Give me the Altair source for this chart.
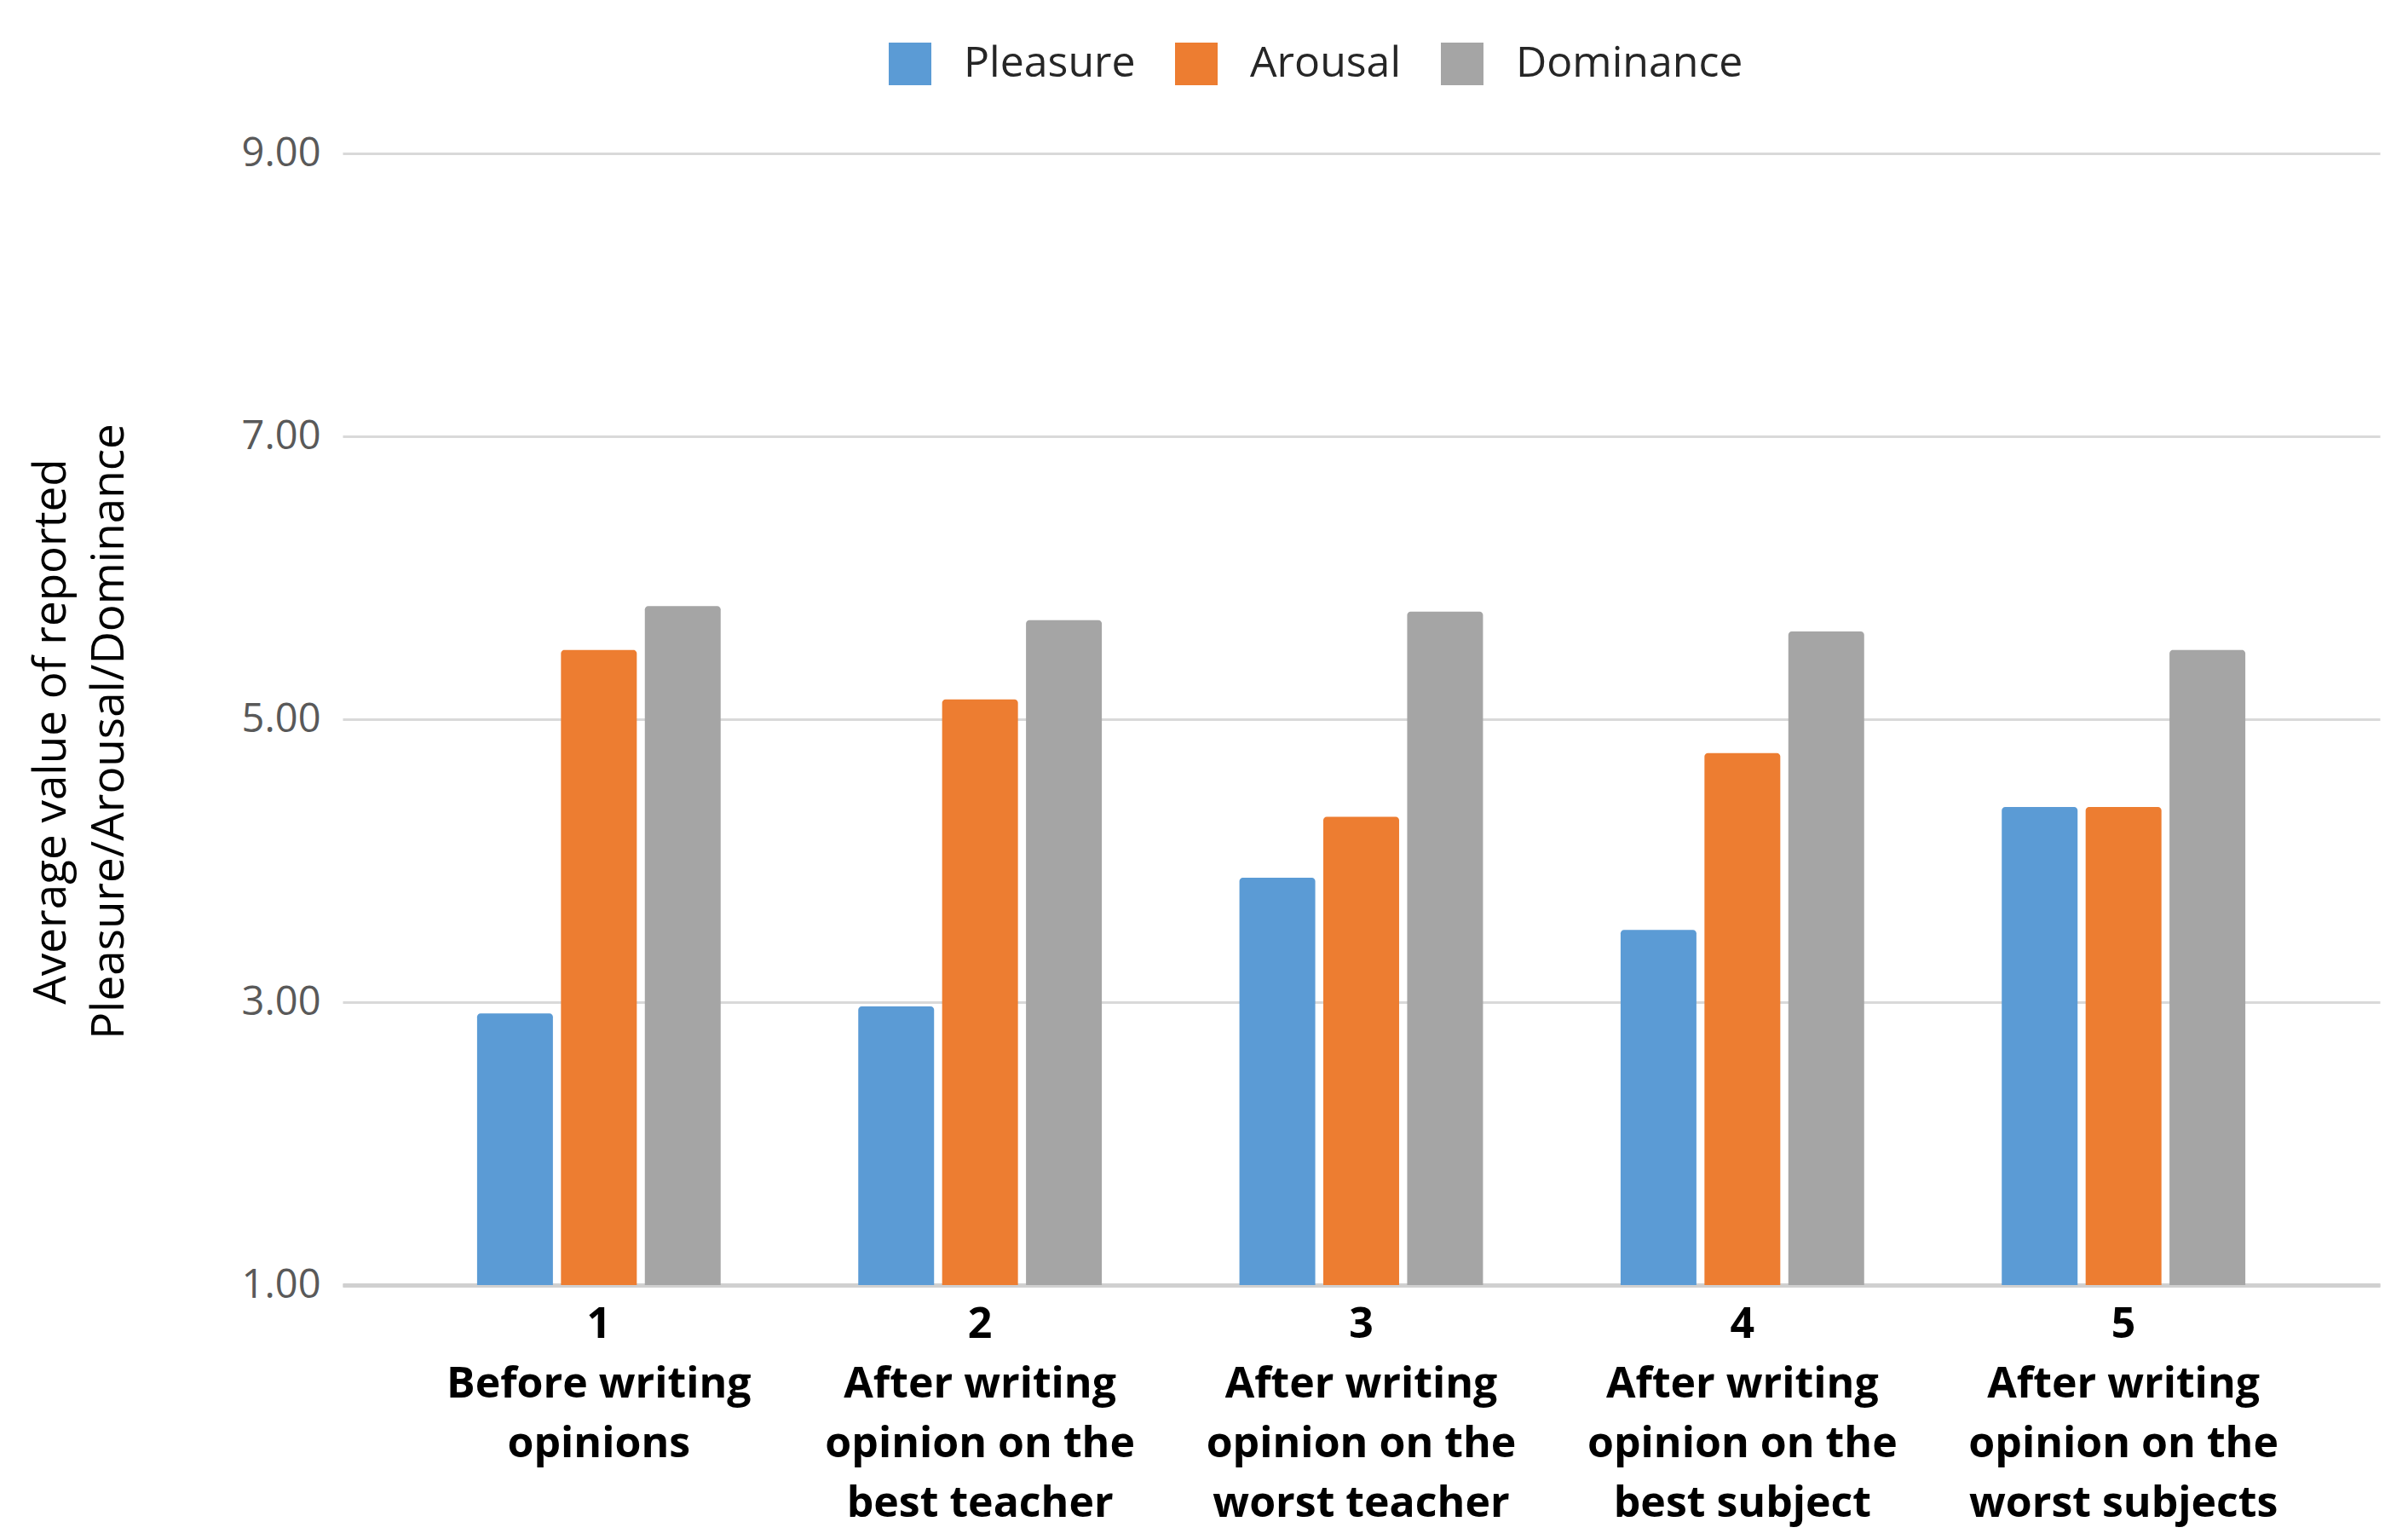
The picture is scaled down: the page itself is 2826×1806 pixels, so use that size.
import altair as alt
import pandas as pd

stages = [
    "1|Before writing|opinions",
    "2|After writing|opinion on the|best teacher",
    "3|After writing|opinion on the|worst teacher",
    "4|After writing|opinion on the|best subject",
    "5|After writing|opinion on the|worst subjects",
]
series = ["Pleasure", "Arousal", "Dominance"]
pleasure = [2.92, 2.97, 3.88, 3.51, 4.38]
arousal = [5.49, 5.14, 4.31, 4.76, 4.38]
dominance = [5.80, 5.70, 5.76, 5.62, 5.49]
colors = ["#5B9BD5", "#ED7D31", "#A5A5A5"]
y_ticks = [1, 3, 5, 7, 9]

rows = []
for name, vals in zip(series, [pleasure, arousal, dominance]):
    for st, v in zip(stages, vals):
        rows.append({"stage": st, "series": name, "value": v})
df = pd.DataFrame(rows)

chart = alt.Chart(df).mark_bar(cornerRadiusTopLeft=4, cornerRadiusTopRight=4).encode(
    x=alt.X("stage:N", sort=stages,
            scale=alt.Scale(paddingInner=0.361, paddingOuter=0.353),
            axis=alt.Axis(title=None, labelAngle=0, labelExpr="split(datum.label, '|')",
                          labelFont="Open Sans", labelFontWeight="bold", labelFontSize=50,
                          labelColor="#000000", labelLineHeight=70, labelPadding=21,
                          labelLimit=0, ticks=False, tickSize=0,
                          domainColor="#d0d0d0", domainWidth=5, grid=False)),
    xOffset=alt.XOffset("series:N", sort=series,
                        scale=alt.Scale(paddingInner=0.096, paddingOuter=0)),
    y=alt.Y("value:Q",
            scale=alt.Scale(domain=[1, 9], zero=False, nice=False),
            axis=alt.Axis(values=y_ticks, format=".2f",
                          title=["Average value of reported", "Pleasure/Arousal/Dominance"],
                          titleFont="Open Sans", titleFontSize=53, titleFontWeight="normal",
                          titleColor="#000000", titleLineHeight=68, titleAngle=270,
                          titleX=-342, titleY=678, titleAlign="center", titleBaseline="middle",
                          labelFont="Open Sans", labelFontSize=47, labelColor="#595959",
                          labelPadding=26, ticks=False, tickSize=0, domain=False,
                          gridColor="#d9d9d9", gridWidth=3)),
    y2=alt.datum(1),
    color=alt.Color("series:N", sort=series,
                    scale=alt.Scale(domain=series, range=colors),
                    legend=alt.Legend(title=None, orient="none", direction="horizontal",
                                      legendX=641, legendY=-130,
                                      symbolType="square", symbolSize=2500,
                                      symbolStrokeWidth=0, labelFont="Open Sans",
                                      labelFontSize=50, labelColor="#262626",
                                      labelLimit=0, labelOffset=38, columnPadding=46)),
).properties(
    width=2391, height=1328,
    autosize=alt.AutoSizeParams(type="none"),
    padding={"left": 394, "top": 172, "right": 15, "bottom": 288},
).configure(background="white").configure_view(stroke=None)

chart.save("out.html", embed_options={"renderer": "svg", "actions": False})
